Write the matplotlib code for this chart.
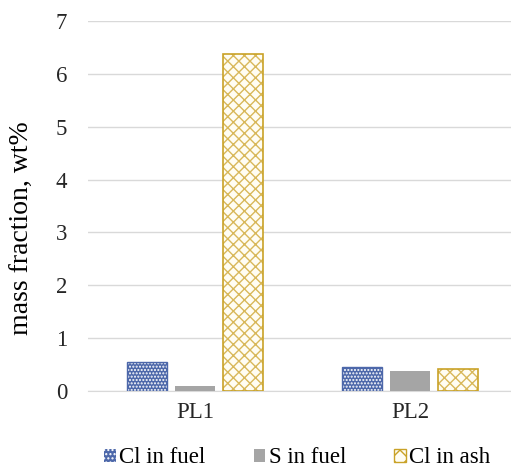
import matplotlib.pyplot as plt
import numpy as np

plt.rcParams['font.family'] = ['Liberation Serif', 'DejaVu Serif']
plt.rcParams['hatch.linewidth'] = 1.0

groups = ['PL1', 'PL2']
series = ['Cl in fuel', 'S in fuel', 'Cl in ash']
cl_fuel = [0.55, 0.46]
s_fuel = [0.10, 0.37]
cl_ash = [6.38, 0.41]

fig = plt.figure(figsize=(5.11, 4.71), dpi=100)
ax = fig.add_axes([0.172, 0.170, 0.828, 0.785])

x = np.arange(len(groups))
w = 0.186
off = 0.223

# Cl in fuel: blue with white dots
ax.bar(x - off, cl_fuel, w, color='#4d68aa', edgecolor='white', hatch='.....', linewidth=0, zorder=3)
ax.bar(x - off, cl_fuel, w, fill=False, edgecolor='#4d68aa', linewidth=1.0, zorder=4)
# S in fuel: plain gray
ax.bar(x, s_fuel, w, color='#a5a5a5', linewidth=0, zorder=3)
# Cl in ash: gold lattice on white
ax.bar(x + off, cl_ash, w, color='#fffdf3', edgecolor='#d8b85a', hatch='xxx', linewidth=0, zorder=3)
ax.bar(x + off, cl_ash, w, fill=False, edgecolor='#c9a227', linewidth=1.2, zorder=4)

# legend proxies
h1 = plt.Rectangle((0, 0), 1, 1, facecolor='#4d68aa', edgecolor='white', hatch='....', linewidth=0)
h2 = plt.Rectangle((0, 0), 1, 1, facecolor='#a5a5a5', linewidth=0)
h3 = plt.Rectangle((0, 0), 1, 1, facecolor='#fffdf3', edgecolor='#c9a227', hatch='xx', linewidth=1.0)
fig.legend([h1, h2, h3], series, loc='center', bbox_to_anchor=(0.582, 0.028), ncol=3,
           frameon=False, fontsize=16.5, handlelength=0.5, handleheight=0.5,
           handletextpad=0.15, columnspacing=2.1, borderpad=0)

ax.set_xlim(-0.5, 1.47)
ax.set_ylim(0, 7)
ax.set_yticks(range(0, 8))
ax.set_xticks(x)
ax.set_xticklabels(groups)
ax.set_ylabel('mass fraction, wt%', fontsize=20)
ax.yaxis.set_label_coords(-0.125, 0.44)
ax.tick_params(axis='both', labelsize=16.5, length=0, colors='#262626')
ax.tick_params(axis='x', pad=8)
ax.tick_params(axis='y', pad=15)
ax.grid(axis='y', color='#d9d9d9', linewidth=1.0, zorder=0)
for s in ['top', 'right', 'left']:
    ax.spines[s].set_visible(False)
ax.spines['bottom'].set_color('#d9d9d9')
ax.set_axisbelow(True)

plt.savefig('out.png', dpi=100)
